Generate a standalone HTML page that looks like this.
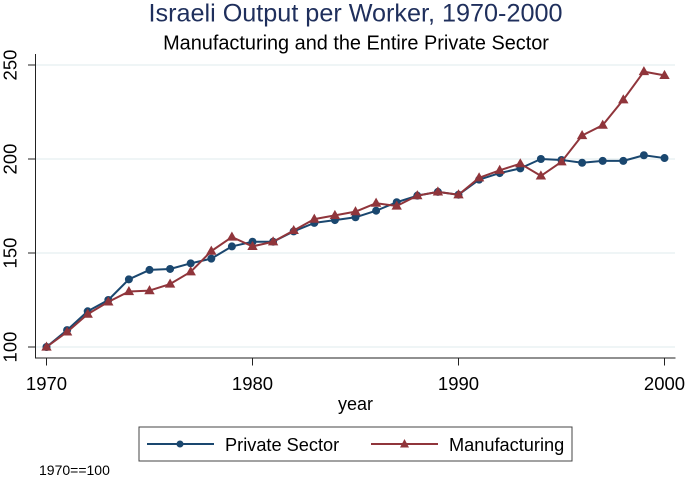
<!DOCTYPE html>
<html>
<head>
<meta charset="utf-8">
<style>
html,body{margin:0;padding:0;background:#fff;width:685px;height:478px;overflow:hidden}
svg{display:block;font-family:"Liberation Sans",Arial,sans-serif}
</style>
</head>
<body>
<svg id="chart" xmlns="http://www.w3.org/2000/svg" width="685" height="478" viewBox="0 0 685 478">
<rect width="685" height="478" fill="#fff"/>
<text x="355.5" y="21.5" text-anchor="middle" font-size="25.2" fill="#1f2f5c">Israeli Output per Worker, 1970-2000</text>
<text x="356" y="49.5" text-anchor="middle" font-size="19.9" fill="#000">Manufacturing and the Entire Private Sector</text>
<g id="grid"></g>
<g id="axes"></g>
<g id="series"></g>
<text x="355.5" y="410" text-anchor="middle" font-size="18" fill="#000">year</text>
<rect x="139" y="427" width="433" height="34" fill="#fff" stroke="#444" stroke-width="1"/>
<g>
<line x1="147" y1="444" x2="214" y2="444" stroke="#1a476f" stroke-width="2"/>
<circle cx="180" cy="444" r="3.5" fill="#1a476f"/>
<text x="225" y="451" font-size="18.2" fill="#000">Private Sector</text>
</g>
<g>
<line x1="371" y1="444" x2="438" y2="444" stroke="#90353b" stroke-width="2"/>
<polygon points="404.500,439 409,447.500 400,447.500" fill="#90353b"/>
<text x="449" y="451" font-size="18.2" fill="#000">Manufacturing</text>
</g>
<text x="39" y="475" font-size="14" fill="#000">1970==100</text>
</svg>
<script>
const years = [1970,1971,1972,1973,1974,1975,1976,1977,1978,1979,1980,1981,1982,1983,1984,1985,1986,1987,1988,1989,1990,1991,1992,1993,1994,1995,1996,1997,1998,1999,2000];
const privateSector = [100,109,119,125,136,141,141.5,144.5,147,153.5,156,156,161.5,166,167.5,169,172.5,177,180.5,182.5,181,189,192.5,195,200,199.5,198,199,199,202,200.5];
const manufacturing = [100,108,117.5,124,129.5,130,133.5,140,151,158.5,153.5,156,162,168,170,172,176.5,175,180.5,182.5,181,190,194,197.5,191,198.5,212.5,218,231.5,246.5,244.5];
const xTicks = [1970,1980,1990,2000];
const yTicks = [100,150,200,250];

const NS = 'http://www.w3.org/2000/svg';
function xScale(v){ return 46.5 + (v - 1970) * (664.5 - 46.5) / 30; }
function yScale(v){ return 347 - (v - 100) * (347 - 65) / 150; }
function mk(parent, tag, attrs){
  const el = document.createElementNS(NS, tag);
  for (const k in attrs) el.setAttribute(k, attrs[k]);
  parent.appendChild(el);
  return el;
}
const grid = document.getElementById('grid');
const axes = document.getElementById('axes');
const seriesG = document.getElementById('series');

yTicks.forEach(function(t){
  const g = mk(grid, 'line', {x1:36, x2:675, y1:yScale(t), y2:yScale(t), stroke:'#eaf2f3', 'stroke-width':1.5});
  
  
});

const yAxis = mk(axes, 'line', {x1:35.5, x2:35.5, y1:54, y2:358.5, stroke:'#222', 'stroke-width':1});


const xAxis = mk(axes, 'line', {x1:35, x2:675.5, y1:358, y2:358, stroke:'#222', 'stroke-width':1});



yTicks.forEach(function(t){
  const y = yScale(t);
  const tick = mk(axes, 'line', {x1:28, x2:35.5, y1:y, y2:y, stroke:'#222', 'stroke-width':1});
  
  
  const lab = mk(axes, 'text', {x:16.5, y:y, 'text-anchor':'middle', 'font-size':18.5, fill:'#000', transform:'rotate(-90 16.5 ' + y + ')'});
  
  
  lab.textContent = t;
});
xTicks.forEach(function(t){
  const x = xScale(t);
  const tick = mk(axes, 'line', {x1:x, x2:x, y1:358, y2:365.5, stroke:'#222', 'stroke-width':1});
  
  
  const lab = mk(axes, 'text', {x:x, y:390, 'text-anchor':'middle', 'font-size':18.5, fill:'#000'});
  
  
  lab.textContent = t;
});

function pointsOf(vals){
  return vals.map(function(v, i){ return xScale(years[i]) + ',' + yScale(v); }).join(' ');
}
const privLine = mk(seriesG, 'polyline', {points:pointsOf(privateSector), fill:'none', stroke:'#1a476f', 'stroke-width':2, 'stroke-linejoin':'round'});


privateSector.forEach(function(v, i){
  const c = mk(seriesG, 'circle', {cx:xScale(years[i]), cy:yScale(v), r:4, fill:'#1a476f'});
  
  
});
const mfgLine = mk(seriesG, 'polyline', {points:pointsOf(manufacturing), fill:'none', stroke:'#90353b', 'stroke-width':2, 'stroke-linejoin':'round'});


manufacturing.forEach(function(v, i){
  const x = xScale(years[i]), y = yScale(v);
  const p = mk(seriesG, 'polygon', {points:x + ',' + (y - 5.5) + ' ' + (x + 5.2) + ',' + (y + 3.6) + ' ' + (x - 5.2) + ',' + (y + 3.6), fill:'#90353b'});
  
  
});
</script>
</body>
</html>
